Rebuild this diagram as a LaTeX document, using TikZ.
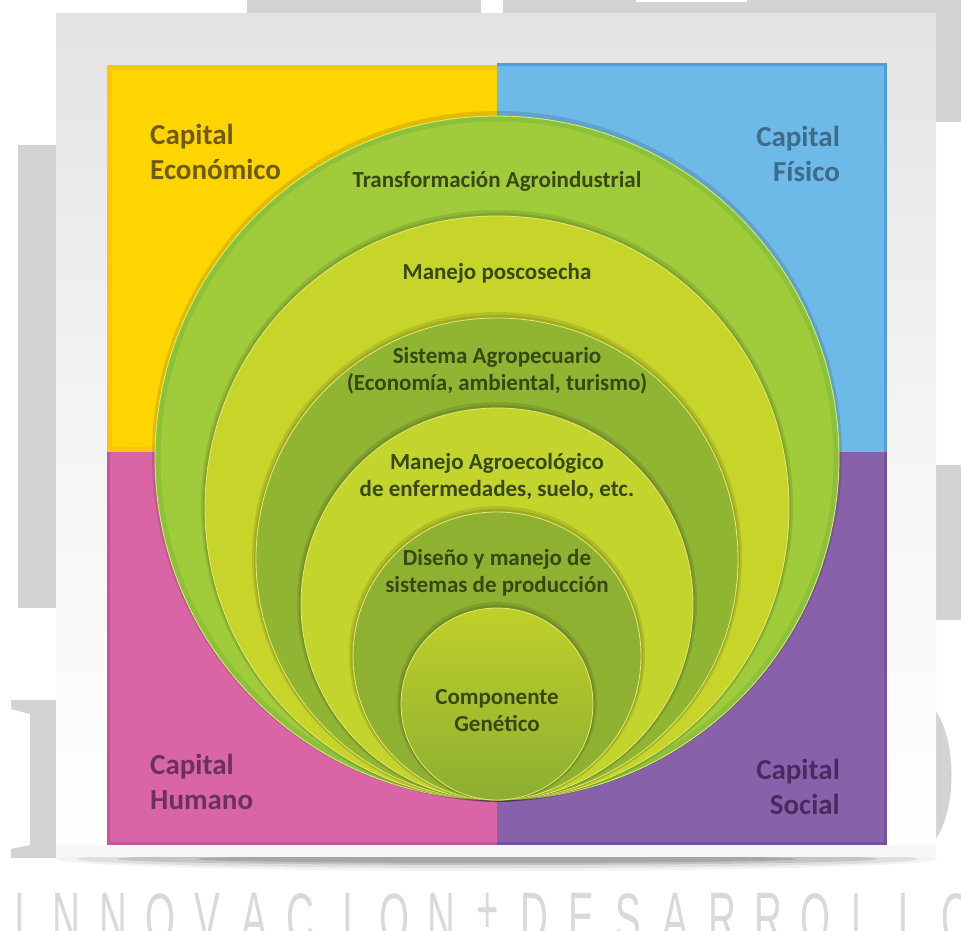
\documentclass[tikz,border=0pt]{standalone}
\usepackage{fontspec}
\setmainfont{Carlito}
\newfontfamily\wmfont{Liberation Sans}
\definecolor{wmgray}{HTML}{D3D3D3}
\definecolor{wmtext}{HTML}{D9D9D9}
\definecolor{framegray}{HTML}{E3E3E3}
\definecolor{qyellow}{HTML}{FFD500}
\definecolor{qyellowd}{HTML}{FFC40E}
\definecolor{qblue}{HTML}{6DB9E8}
\definecolor{qblued}{HTML}{4C9FDB}
\definecolor{qpink}{HTML}{D965A7}
\definecolor{qpinkd}{HTML}{C8559A}
\definecolor{qpurple}{HTML}{8762AB}
\definecolor{qpurpled}{HTML}{7552A0}
\definecolor{ringA}{HTML}{A0CC3B}
\definecolor{ringAd}{HTML}{7AB83C}
\definecolor{ringB}{HTML}{C7D52B}
\definecolor{ringC}{HTML}{90B532}
\definecolor{ringD}{HTML}{C3D42C}
\definecolor{ringE}{HTML}{8EB131}
\definecolor{ringFt}{HTML}{C0D029}
\definecolor{ringFb}{HTML}{8CAE32}
\definecolor{hilite}{HTML}{E2EA6C}
\definecolor{txtgreen}{HTML}{384812}
\definecolor{txtyellow}{HTML}{6E5B12}
\definecolor{txtblue}{HTML}{3F6B8B}
\definecolor{txtpink}{HTML}{6B3060}
\definecolor{txtpurple}{HTML}{4B2A60}
\tikzset{
  caplabel/.style={font=\bfseries\fontsize{29}{35}\selectfont, inner sep=0pt},
  inlabel/.style={font=\bfseries\fontsize{23}{27}\selectfont, text=txtgreen, align=center, inner sep=0pt},
  wmletter/.style={font=\wmfont\fontsize{70}{70}\selectfont, text=wmtext, inner sep=0pt, anchor=north, xscale=0.55},
  ringshadow/.style={fill=black, opacity=0.10},
  ringedge/.style={draw=hilite, line width=0.8pt}
}
\begin{document}
\begin{tikzpicture}[x=1pt,y=-1pt]
\useasboundingbox (0,0) rectangle (961,930);
\begin{scope}
\clip (0,0) rectangle (961,930);
% background watermark shapes
\fill[wmgray] (247,0) rectangle (481,14);
\fill[wmgray] (503,0) rectangle (961,14);
\fill[white] (636,0) rectangle (747,1.5);
\fill[wmgray] (920,0) rectangle (961,122);
\fill[wmgray] (18,145) rectangle (60,608);
\fill[wmgray] (920,465) rectangle (961,620);
\fill[wmgray] (920,697) .. controls (962,715) and (962,835) .. (920,853) -- cycle;
\fill[wmgray] (11,700) -- (60,700) -- (60,858) -- (11,858) -- (11,849) -- (30,845) -- (30,714) -- (11,709) -- cycle;
% bottom lettering (cut off by the lower edge, as in the reference)
\foreach \ch [count=\i from 0] in {I,N,N,O,V,A,C,I,O,N,+,D,E,S,A,R,R,O,L,L,O}{
  \node[wmletter] (wm\i) at ({20+46.8*\i},893) {\ch};
}
% frame
\shade[top color=framegray, bottom color=white, middle color=white!96!black] (56,13) rectangle (936,857);
% frame shadow
\fill[black, opacity=0.05] (497,859) ellipse [x radius=440pt, y radius=12pt];
\fill[black, opacity=0.08] (497,859) ellipse [x radius=420pt, y radius=9pt];
\fill[black, opacity=0.12] (497,859) ellipse [x radius=380pt, y radius=6pt];
\fill[black, opacity=0.15] (497,859) ellipse [x radius=300pt, y radius=4pt];
\fill[white!97!black] (56,845) rectangle (936,857);
\end{scope}
% quadrants
\shade[inner color=qyellow, outer color=qyellowd] (107,65) rectangle (497,452);
\fill[qyellow] (112,70) rectangle (497,447);
\fill[qblue] (497,63) rectangle (887,452);
\draw[qblued, line width=3pt] (497,64.5) -- (885.5,64.5) -- (885.5,452);
\fill[qpink] (107,452) rectangle (497,845);
\draw[qpinkd, line width=3pt] (108.5,452) -- (108.5,843.5) -- (497,843.5);
\fill[qpurple] (497,452) rectangle (887,845);
\draw[qpurpled, line width=3pt] (497,843.5) -- (885.5,843.5) -- (885.5,452);
% corner labels
\node[caplabel, text=txtyellow, anchor=west, align=left] (ce) at (150,152) {Capital\\Económico};
\node[caplabel, text=txtblue, anchor=east, align=right] (cf) at (840,154) {Capital\\Físico};
\node[caplabel, text=txtpink, anchor=west, align=left] (ch) at (150,782) {Capital\\Humano};
\node[caplabel, text=txtpurple, anchor=east, align=right] (cs) at (840,787) {Capital\\Social};
% nested circles, all tangent at (497,800)
\fill[black, opacity=0.12] (497,456) circle [radius=345pt];
\fill[ringA] (497,458) circle [radius=342pt];
\draw[ringAd, line width=5pt, opacity=0.5] (497,458) circle [radius=339pt];
\draw[ringedge] (497,458) circle [radius=342pt];
\foreach \r/\c in {292/ringB, 241/ringC, 196/ringD, 144/ringE}{
  \fill[ringshadow] (497,{800-\r-2}) circle [radius={(\r+4)*1pt}];
  \fill[ringshadow] (497,{800-\r-1}) circle [radius={(\r+2)*1pt}];
  \fill[\c] (497,{800-\r}) circle [radius={\r*1pt}];
  \draw[ringedge] (497,{800-\r}) circle [radius={\r*1pt}];
}
\fill[ringshadow] (497,702) circle [radius=100pt];
\fill[ringshadow] (497,703) circle [radius=98pt];
\shade[top color=ringFt, bottom color=ringFb] (497,704) circle [radius=96pt];
\draw[ringedge] (497,704) circle [radius=96pt];
% ring labels
\node[inlabel, anchor=base] (t1) at (497,187) {Transformación Agroindustrial};
\node[inlabel, anchor=base] (t2) at (497,279) {Manejo poscosecha};
\node[inlabel] (t3) at (497,371) {Sistema Agropecuario\\(Economía, ambiental, turismo)};
\node[inlabel] (t4) at (497,476) {Manejo Agroecológico\\de enfermedades, suelo, etc.};
\node[inlabel] (t5) at (497,573) {Diseño y manejo de\\sistemas de producción};
\node[inlabel] (t6) at (497,711) {Componente\\Genético};
\end{tikzpicture}
\end{document}
